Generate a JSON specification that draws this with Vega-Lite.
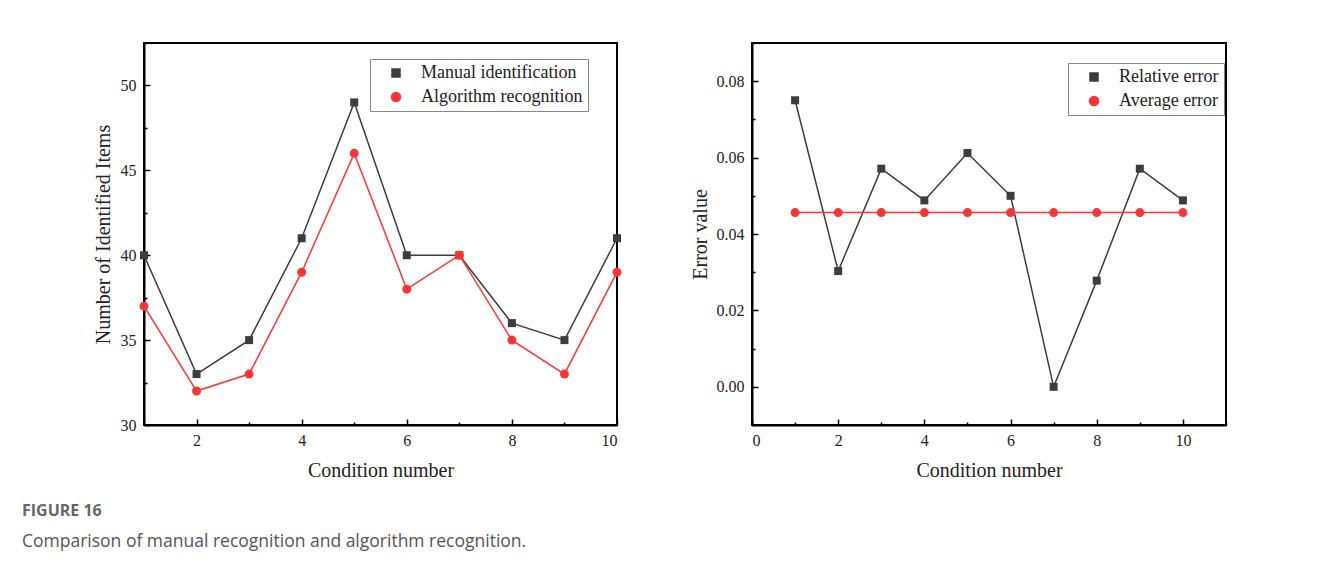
{
  "$schema": "https://vega.github.io/schema/vega-lite/v6.json",
  "background": "white",
  "padding": {"left": 22, "top": 41, "right": 5, "bottom": 5},
  "config": {
    "view": {"stroke": "black", "strokeWidth": 2},
    "axis": {
      "domainColor": "black", "domainWidth": 2, "tickColor": "black", "tickWidth": 1.5,
      "labelFont": "Liberation Serif", "labelFontSize": 16, "labelColor": "#222",
      "titleFont": "Liberation Serif", "titleFontSize": 20, "titleFontWeight": "normal", "titleColor": "#222",
      "grid": false
    },
    "legend": {
      "labelFont": "Liberation Serif", "labelFontSize": 18, "labelColor": "#222", "labelLimit": 400,
      "strokeColor": "#888", "fillColor": "white", "padding": 5, "rowPadding": 6,
      "symbolSize": 64, "labelOffset": 16, "symbolOffset": 12, "symbolStrokeWidth": 1.5
    }
  },
  "title": {
    "text": "FIGURE 16",
    "subtitle": "Comparison of manual recognition and algorithm recognition.",
    "orient": "bottom", "anchor": "start", "frame": "bounds", "offset": 22, "dx": -70,
    "font": "Open Sans", "fontSize": 16, "fontWeight": "bold", "color": "#666",
    "subtitleFont": "Open Sans", "subtitleFontSize": 17.5, "subtitleColor": "#555", "subtitlePadding": 14
  },
  "datasets": {
    "left": [
      {"condition": 1, "series": "Manual identification", "value": 40},
      {"condition": 2, "series": "Manual identification", "value": 33},
      {"condition": 3, "series": "Manual identification", "value": 35},
      {"condition": 4, "series": "Manual identification", "value": 41},
      {"condition": 5, "series": "Manual identification", "value": 49},
      {"condition": 6, "series": "Manual identification", "value": 40},
      {"condition": 7, "series": "Manual identification", "value": 40},
      {"condition": 8, "series": "Manual identification", "value": 36},
      {"condition": 9, "series": "Manual identification", "value": 35},
      {"condition": 10, "series": "Manual identification", "value": 41},
      {"condition": 1, "series": "Algorithm recognition", "value": 37},
      {"condition": 2, "series": "Algorithm recognition", "value": 32},
      {"condition": 3, "series": "Algorithm recognition", "value": 33},
      {"condition": 4, "series": "Algorithm recognition", "value": 39},
      {"condition": 5, "series": "Algorithm recognition", "value": 46},
      {"condition": 6, "series": "Algorithm recognition", "value": 38},
      {"condition": 7, "series": "Algorithm recognition", "value": 40},
      {"condition": 8, "series": "Algorithm recognition", "value": 35},
      {"condition": 9, "series": "Algorithm recognition", "value": 33},
      {"condition": 10, "series": "Algorithm recognition", "value": 39}
    ],
    "right": [
      {"condition": 1, "series": "Relative error", "value": 0.075},
      {"condition": 2, "series": "Relative error", "value": 0.0303},
      {"condition": 3, "series": "Relative error", "value": 0.0571},
      {"condition": 4, "series": "Relative error", "value": 0.0488},
      {"condition": 5, "series": "Relative error", "value": 0.0612},
      {"condition": 6, "series": "Relative error", "value": 0.05},
      {"condition": 7, "series": "Relative error", "value": 0.0},
      {"condition": 8, "series": "Relative error", "value": 0.0278},
      {"condition": 9, "series": "Relative error", "value": 0.0571},
      {"condition": 10, "series": "Relative error", "value": 0.0488},
      {"condition": 1, "series": "Average error", "value": 0.0456},
      {"condition": 2, "series": "Average error", "value": 0.0456},
      {"condition": 3, "series": "Average error", "value": 0.0456},
      {"condition": 4, "series": "Average error", "value": 0.0456},
      {"condition": 5, "series": "Average error", "value": 0.0456},
      {"condition": 6, "series": "Average error", "value": 0.0456},
      {"condition": 7, "series": "Average error", "value": 0.0456},
      {"condition": 8, "series": "Average error", "value": 0.0456},
      {"condition": 9, "series": "Average error", "value": 0.0456},
      {"condition": 10, "series": "Average error", "value": 0.0456}
    ]
  },
  "hconcat": [
    {
      "width": 473, "height": 382,
      "data": {"name": "left"},
      "encoding": {
        "x": {"field": "condition", "type": "quantitative",
          "scale": {"domain": [1, 10], "nice": false, "zero": false},
          "axis": {"title": "Condition number", "values": [1,2,3,4,5,6,7,8,9,10],
            "labelExpr": "datum.value % 2 === 0 ? datum.label : ''",
            "tickSize": {"condition": {"test": "datum.value % 2 === 0", "value": -6}, "value": -3},
            "labelPadding": 13, "titlePadding": 12}},
        "y": {"field": "value", "type": "quantitative",
          "scale": {"domain": [30, 52.5], "nice": false, "zero": false},
          "axis": {"title": "Number of Identified Items", "values": [30,32.5,35,37.5,40,42.5,45,47.5,50,52.5],
            "labelExpr": "datum.value % 5 === 0 ? datum.label : ''",
            "tickSize": {"condition": {"test": "datum.value % 5 === 0", "value": -6}, "value": -3},
            "labelPadding": 14, "titlePadding": 7}},
        "color": {"field": "series", "type": "nominal", "title": null,
          "scale": {"domain": ["Manual identification", "Algorithm recognition"], "range": ["#3d3d3d", "#ff3333"]},
          "legend": {"orient": "none", "legendX": 226, "legendY": 16, "title": null}}
      },
      "layer": [
        {"mark": {"type": "line", "strokeWidth": 1.5}},
        {"mark": {"type": "point", "filled": true, "opacity": 1},
         "encoding": {
           "shape": {"field": "series", "type": "nominal", "legend": null,
             "scale": {"domain": ["Manual identification", "Algorithm recognition"], "range": ["square", "circle"]}},
           "size": {"field": "series", "type": "nominal", "legend": null,
             "scale": {"domain": ["Manual identification", "Algorithm recognition"], "range": [64, 81]}}
         }}
      ]
    },
    {
      "width": 474, "height": 382,
      "data": {"name": "right"},
      "encoding": {
        "x": {"field": "condition", "type": "quantitative",
          "scale": {"domain": [0, 11], "nice": false, "zero": false},
          "axis": {"title": "Condition number", "values": [0,1,2,3,4,5,6,7,8,9,10,11],
            "labelExpr": "datum.value % 2 === 0 ? datum.label : ''",
            "tickSize": {"condition": {"test": "datum.value % 2 === 0", "value": -6}, "value": -3},
            "labelPadding": 13, "titlePadding": 12}},
        "y": {"field": "value", "type": "quantitative",
          "scale": {"domain": [-0.01, 0.09], "nice": false, "zero": false},
          "axis": {"title": "Error value", "values": [-0.01,0,0.01,0.02,0.03,0.04,0.05,0.06,0.07,0.08,0.09],
            "format": ".2f",
            "labelExpr": "round(datum.value*100) % 2 === 0 ? datum.label : ''",
            "tickSize": {"condition": {"test": "round(datum.value*100) % 2 === 0", "value": -6}, "value": -3},
            "labelPadding": 14, "titlePadding": 6}},
        "color": {"field": "series", "type": "nominal", "title": null,
          "scale": {"domain": ["Relative error", "Average error"], "range": ["#3d3d3d", "#ff3333"]},
          "legend": {"orient": "none", "legendX": 316, "legendY": 20, "title": null}}
      },
      "layer": [
        {"mark": {"type": "line", "strokeWidth": 1.5}},
        {"mark": {"type": "point", "filled": true, "opacity": 1},
         "encoding": {
           "shape": {"field": "series", "type": "nominal", "legend": null,
             "scale": {"domain": ["Relative error", "Average error"], "range": ["square", "circle"]}},
           "size": {"field": "series", "type": "nominal", "legend": null,
             "scale": {"domain": ["Relative error", "Average error"], "range": [64, 81]}}
         }}
      ]
    }
  ],
  "resolve": {"scale": {"color": "independent", "shape": "independent", "size": "independent"}},
  "spacing": 135,
  "bounds": "flush"
}
